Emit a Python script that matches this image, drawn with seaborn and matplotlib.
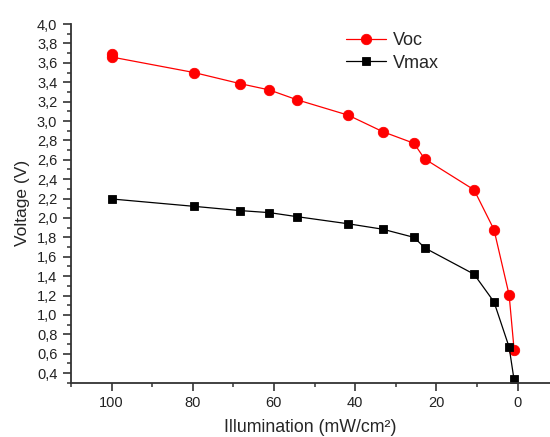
import matplotlib
matplotlib.use("Agg")
import matplotlib.pyplot as plt
import matplotlib.ticker as mticker
import seaborn as sns
import pandas as pd

voc_x = [100, 100, 79.7, 68.3, 61.1, 54.4, 41.7, 33.2, 25.5, 22.9, 10.7, 5.8, 2.07, 0.84]
voc_y = [3.69, 3.66, 3.50, 3.385, 3.32, 3.22, 3.06, 2.89, 2.77, 2.61, 2.29, 1.88, 1.207, 0.64]
vmax_x = [100, 79.7, 68.3, 61.1, 54.4, 41.7, 33.2, 25.5, 22.8, 10.7, 5.8, 2.07, 0.9]
vmax_y = [2.196, 2.12, 2.076, 2.055, 2.014, 1.94, 1.884, 1.80, 1.69, 1.42, 1.135, 0.668, 0.344]

sns.set_style("ticks")
plt.rcParams['font.family'] = ['Liberation Sans', 'DejaVu Sans']

fig = plt.figure(figsize=(5.5, 4.37), dpi=100)
ax = fig.add_axes([0.129, 0.124, 0.871, 0.821])

sns.lineplot(x=voc_x, y=voc_y, ax=ax, color='#ff0000', marker='o', markersize=7.5,
             markeredgecolor='#ff0000', markeredgewidth=0.6, linewidth=0.9,
             estimator=None, sort=False, label='Voc')
sns.lineplot(x=vmax_x, y=vmax_y, ax=ax, color='black', marker='s', markersize=6,
             markeredgecolor='black', markeredgewidth=0.6, linewidth=0.9,
             estimator=None, sort=False, label='Vmax')

ax.set_xlim(110, -8)
ax.set_ylim(0.3, 4.0)
ax.xaxis.set_major_locator(mticker.MultipleLocator(20))
ax.xaxis.set_minor_locator(mticker.MultipleLocator(10))
ax.yaxis.set_major_locator(mticker.MultipleLocator(0.2))
ax.yaxis.set_minor_locator(mticker.MultipleLocator(0.1))
ax.yaxis.set_major_formatter(mticker.FuncFormatter(lambda v, p: f"{v:.1f}".replace('.', ',')))
ax.xaxis.set_major_formatter(mticker.FuncFormatter(lambda v, p: f"{v:.0f}"))

for s in ['top', 'right']:
    ax.spines[s].set_visible(False)
for s in ['left', 'bottom']:
    ax.spines[s].set_linewidth(1.3)
    ax.spines[s].set_color('#333333')

ax.tick_params(axis='both', which='major', length=5.8, width=1.2, labelsize=10.5,
               color='#333333', labelcolor='#222222', direction='out', pad=4)
ax.tick_params(axis='both', which='minor', length=3, width=1.1, color='#333333', direction='out')

ax.set_xlabel('Illumination (mW/cm²)', fontsize=12.8, labelpad=6)
ax.set_ylabel('Voltage (V)', fontsize=12.5, labelpad=5)

leg = ax.legend(loc='upper left', bbox_to_anchor=(0.54, 1.022), frameon=False, fontsize=13,
                handlelength=2.2, handletextpad=0.4, labelspacing=0.3)

fig.savefig('out.png', dpi=100)
